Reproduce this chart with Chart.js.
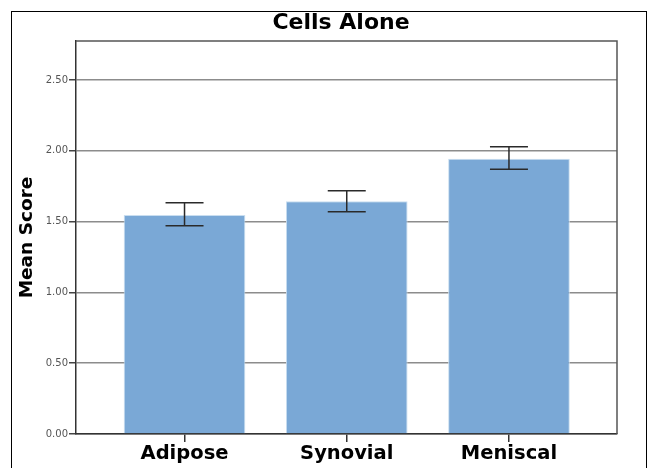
<!DOCTYPE html>
<html>
<head>
<meta charset="utf-8">
<script src="https://cdn.jsdelivr.net/npm/chart.js@4/dist/chart.umd.min.js"></script>
<style>
  html, body { margin: 0; padding: 0; background: #fff; overflow: hidden; }
  #frame { position: absolute; left: 11px; top: 11px; width: 636px; height: 480px; border: 1px solid #000; box-sizing: border-box; }
  #wrap { position: absolute; left: 0; top: 0; width: 651px; height: 468px; }
</style>
</head>
<body>
<div id="frame"></div>
<div id="wrap"><canvas id="c" width="651" height="468"></canvas></div>
<script>
const chartTitle = 'Cells Alone';
const categories = ['Adipose', 'Synovial', 'Meniscal'];
const means = [1.547, 1.643, 1.944];
const errLow = [1.471, 1.570, 1.869];
const errHigh = [1.633, 1.718, 2.029];
const yTicks = [0, 0.5, 1.0, 1.5, 2.0, 2.5];

const FONT = '"DejaVu Sans", "Liberation Sans", sans-serif';

const frameAndErrors = {
  id: 'frameAndErrors',
  afterDatasetsDraw(chart) {
    const ctx = chart.ctx;
    const xs = chart.scales.x, ys = chart.scales.y;
    ctx.save();
    ctx.strokeStyle = '#2a2a2a';
    ctx.lineWidth = 1.5;
    for (let i = 0; i < categories.length; i++) {
      const x = xs.getPixelForValue(i + 1);
      const yl = ys.getPixelForValue(errLow[i]);
      const yh = ys.getPixelForValue(errHigh[i]);
      ctx.beginPath();
      ctx.moveTo(x, yl); ctx.lineTo(x, yh);
      ctx.moveTo(x - 19, yl); ctx.lineTo(x + 19, yl);
      ctx.moveTo(x - 19, yh); ctx.lineTo(x + 19, yh);
      ctx.stroke();
    }
    const a = chart.chartArea;
    ctx.strokeStyle = '#555';
    ctx.lineWidth = 1.5;
    ctx.beginPath();
    ctx.moveTo(a.left, a.top); ctx.lineTo(a.right, a.top); ctx.lineTo(a.right, a.bottom);
    ctx.stroke();
    // chart title
    ctx.fillStyle = '#000';
    ctx.font = 'bold 22px ' + FONT;
    ctx.textAlign = 'center';
    ctx.textBaseline = 'middle';
    ctx.fillText(chartTitle, 341, 23);
    ctx.restore();
  }
};

new Chart(document.getElementById('c'), {
  type: 'bar',
  data: {
    datasets: [{
      data: categories.map((c, i) => ({ x: i + 1, y: means[i] })),
      backgroundColor: '#7aa8d6',
      borderColor: '#c9def0',
      borderWidth: 1,
      categoryPercentage: 1,
      barPercentage: 0.75
    }]
  },
  plugins: [frameAndErrors],
  options: {
    responsive: false,
    animation: false,
    layout: { padding: { top: 41, right: 34, bottom: 0, left: 0 } },
    plugins: {
      legend: { display: false },
      tooltip: { enabled: false },
      title: { display: false }
    },
    scales: {
      x: {
        type: 'linear',
        offset: false,
        min: 0.331,
        max: 3.666,
        afterBuildTicks(s) { s.ticks = categories.map((c, i) => ({ value: i + 1 })); },
        afterFit(s) { s.height = 34; },
        ticks: {
          callback: (v) => categories[v - 1] || '',
          color: '#000',
          font: { family: FONT, size: 19.5, weight: 'bold' },
          padding: 0,
          maxRotation: 0,
          autoSkip: false
        },
        grid: { offset: false, drawOnChartArea: false, drawTicks: true, tickLength: 8, color: '#333', lineWidth: 1.5 },
        border: { display: true, color: '#333', width: 1.5 }
      },
      y: {
        min: 0,
        max: 2.775,
        afterBuildTicks(s) { s.ticks = yTicks.map(v => ({ value: v })); },
        afterFit(s) { s.width = 76; },
        ticks: {
          callback: (v) => Number(v).toFixed(2),
          color: '#555',
          font: { family: FONT, size: 10 },
          padding: 1
        },
        grid: { color: '#8c8c8c', lineWidth: 1.5, drawTicks: true, tickLength: 7, tickColor: '#444' },
        border: { display: true, color: '#333', width: 1.5 },
        title: {
          display: true,
          text: 'Mean Score',
          color: '#000',
          font: { family: FONT, size: 18.5, weight: 'bold' },
          padding: { top: 16, bottom: 0 }
        }
      }
    }
  }
});
</script>
</body>
</html>
